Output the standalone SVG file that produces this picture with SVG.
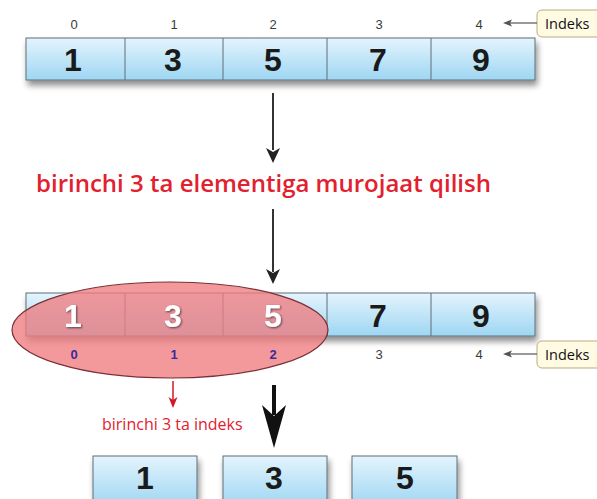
<svg xmlns="http://www.w3.org/2000/svg" width="597" height="499" viewBox="0 0 597 499">
<defs>
<linearGradient id="cellg" x1="0" y1="0" x2="0" y2="1">
<stop offset="0" stop-color="#e4f4fd"/>
<stop offset="1" stop-color="#9ed6f3"/>
</linearGradient>
<filter id="sh" x="-10%" y="-30%" width="120%" height="180%">
<feGaussianBlur in="SourceAlpha" stdDeviation="3"/>
<feOffset dx="2" dy="5" result="b"/>
<feComponentTransfer><feFuncA type="linear" slope="0.45"/></feComponentTransfer>
<feMerge><feMergeNode/><feMergeNode in="SourceGraphic"/></feMerge>
</filter>
<filter id="tsh" x="-30%" y="-30%" width="160%" height="160%">
<feGaussianBlur in="SourceAlpha" stdDeviation="1"/>
<feOffset dx="1" dy="1" result="b"/>
<feComponentTransfer><feFuncA type="linear" slope="0.6"/></feComponentTransfer>
<feMerge><feMergeNode/><feMergeNode in="SourceGraphic"/></feMerge>
</filter>
</defs>
<style>
.cell{fill:url(#cellg);stroke:#5f6f78;stroke-width:1}
.num{font-family:"Liberation Sans",Arial,sans-serif;font-weight:bold;font-size:32px;fill:#1a1a1a;text-anchor:middle}
.wnum{font-family:"Liberation Sans",Arial,sans-serif;font-weight:bold;font-size:32px;fill:#ffffff;text-anchor:middle}
.idx{font-family:"Liberation Sans",Arial,sans-serif;font-size:13px;fill:#3a3a3a;text-anchor:middle}
.idxp{font-family:"Liberation Sans",Arial,sans-serif;font-size:13px;fill:#3a2a9a;text-anchor:middle;font-weight:bold}
.tag{fill:#fffbe3;stroke:#b9ab85;stroke-width:1}
.tagt{font-family:"Open Sans","Noto Sans",sans-serif;font-size:14.5px;fill:#111}
.red{font-family:"Open Sans","Noto Sans",sans-serif;fill:#e3202e}
.conn{stroke:#333;stroke-width:2;fill:none}
.thin{stroke:#555;stroke-width:1.2;fill:none}
.sep{stroke:#5f6f78;stroke-width:1}
</style>

<g id="array-top">
<g filter="url(#sh)">
<rect class="cell" x="26" y="38" width="509" height="42"/>
</g>
<line class="sep" x1="125" y1="38" x2="125" y2="80"/>
<line class="sep" x1="223" y1="38" x2="223" y2="80"/>
<line class="sep" x1="327" y1="38" x2="327" y2="80"/>
<line class="sep" x1="431" y1="38" x2="431" y2="80"/>
<text class="num" x="73" y="71">1</text>
<text class="num" x="173" y="71">3</text>
<text class="num" x="273" y="71">5</text>
<text class="num" x="378" y="71">7</text>
<text class="num" x="481" y="71">9</text>
<text class="idx" x="74" y="29">0</text>
<text class="idx" x="174" y="29">1</text>
<text class="idx" x="273" y="29">2</text>
<text class="idx" x="379" y="29">3</text>
<text class="idx" x="479" y="29">4</text>
</g>

<g id="tag-top">
<rect class="tag" x="537" y="10" width="70" height="27" rx="5"/>
<text class="tagt" x="545" y="29">Indeks</text>
</g>

<g id="title">
<text class="red" x="36" y="192" font-size="24" font-weight="600">birinchi 3 ta elementiga murojaat qilish</text>
</g>

<g id="array-mid">
<g filter="url(#sh)">
<rect class="cell" x="26" y="293" width="509" height="43"/>
</g>
<line class="sep" x1="125" y1="293" x2="125" y2="336"/>
<line class="sep" x1="223" y1="293" x2="223" y2="336"/>
<line class="sep" x1="327" y1="293" x2="327" y2="336"/>
<line class="sep" x1="431" y1="293" x2="431" y2="336"/>
<text class="num" x="378" y="327">7</text>
<text class="num" x="481" y="327">9</text>
<text class="idx" x="379" y="359">3</text>
<text class="idx" x="479" y="359">4</text>
</g>

<g id="highlight">
<ellipse cx="170" cy="330" rx="158" ry="48" fill="#f07c80" fill-opacity="0.78" stroke="#7a3035" stroke-width="1.2"/>
<g filter="url(#tsh)">
<text class="wnum" x="73" y="327">1</text>
<text class="wnum" x="173" y="327">3</text>
<text class="wnum" x="273" y="327">5</text>
</g>
<text class="idxp" x="74" y="359">0</text>
<text class="idxp" x="174" y="359">1</text>
<text class="idxp" x="273" y="359">2</text>
</g>

<g id="tag-mid">
<rect class="tag" x="537" y="341" width="70" height="27" rx="5"/>
<text class="tagt" x="545" y="360">Indeks</text>
</g>

<g id="label-idx">
<text class="red" x="102" y="430" font-size="16">birinchi 3 ta indeks</text>
</g>

<g id="result-1">
<g filter="url(#sh)"><rect class="cell" x="93" y="456" width="104" height="50"/></g>
<text class="num" x="145" y="489">1</text>
</g>
<g id="result-2">
<g filter="url(#sh)"><rect class="cell" x="223" y="456" width="104" height="50"/></g>
<text class="num" x="274" y="489">3</text>
</g>
<g id="result-3">
<g filter="url(#sh)"><rect class="cell" x="352" y="456" width="105" height="50"/></g>
<text class="num" x="405" y="489">5</text>
</g>

<g id="connectors">
<line class="conn" x1="273" y1="93" x2="273" y2="150"/>
<path d="M273,163 L266,148 L273,152 L280,148 Z" fill="#222"/>
<line class="conn" x1="273" y1="209" x2="273" y2="272"/>
<path d="M273,284 L266,269 L273,273 L280,269 Z" fill="#222"/>
<line class="thin" x1="537" y1="23" x2="509" y2="23"/>
<path d="M503,23 L512,19.5 L510,23 L512,26.5 Z" fill="#555"/>
<line class="thin" x1="537" y1="354" x2="509" y2="354"/>
<path d="M503,354 L512,350.5 L510,354 L512,357.5 Z" fill="#555"/>
<line x1="173" y1="381" x2="173" y2="400" stroke="#d01a24" stroke-width="1.5"/>
<path d="M173,408 L168.5,397 L173,400 L177.5,397 Z" fill="#d01a24"/>
<line x1="274" y1="385" x2="274" y2="415" stroke="#111" stroke-width="4"/>
<path d="M274,448 L262,405 L274,416 L286,405 Z" fill="#111"/>
</g>
</svg>
